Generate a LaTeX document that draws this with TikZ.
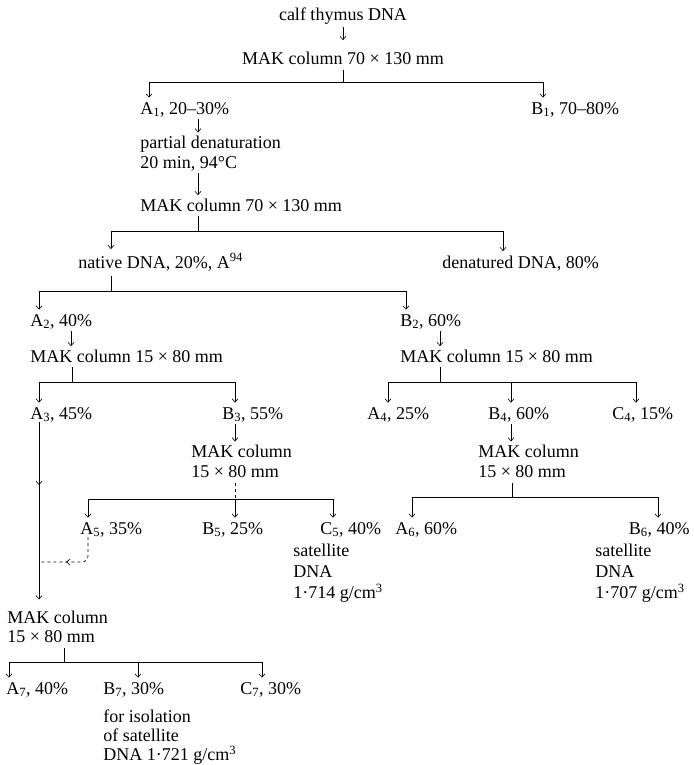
\documentclass[tikz,border=0pt]{standalone}
\usepackage{fontspec}
\setmainfont{Liberation Serif}
\usetikzlibrary{arrows.meta, positioning, calc, decorations.markings}
\tikzset{
    scheme/.style={>={Straight Barb[length=3.5pt,width=6pt]}, line width=0.6pt,
        font=\fontsize{18}{20}\selectfont, x=1pt, y=-1pt},
    lbl/.style={anchor=base west, inner sep=0pt},
    lbltop/.style={anchor=base, inner sep=0pt},
    lblblock/.style={anchor=north west, inner sep=0pt, align=left},
    flowarrow/.style={->, shorten <=2pt, shorten >=3pt},
    stemline/.style={shorten <=5pt},
    tobox/.style={->, shorten >=4pt},
    % arrow tip put in the middle of a line
    passarrow/.style={postaction={decorate},
        decoration={markings, mark=at position #1 with {\arrow{>}}}},
}

\begin{document}
\begin{tikzpicture}[scheme]
    \useasboundingbox (0,0) rectangle (693,765);

    \node[lbltop] (calf) at (343,21) {calf thymus DNA};
    \node[lbltop] (mak1) at (343,65) {MAK column 70 × 130 mm};
    \node[lbl] (a1) at (140,114) {A\textsubscript{1}, 20–30\%};
    \node[lbl] (b1) at (531,114) {B\textsubscript{1}, 70–80\%};
    \node[lblblock] (part) at (140,135.5) {partial denaturation\\20 min, 94°C};
    \node[lbl] (mak2) at (140,211) {MAK column 70 × 130 mm};
    \node[lbl] (native) at (78,268) {native DNA, 20\%, A\textsuperscript{94}};
    \node[lbl] (denat) at (442,268) {denatured DNA, 80\%};
    \node[lbl] (a2) at (30,326) {A\textsubscript{2}, 40\%};
    \node[lbl] (b2) at (400,326) {B\textsubscript{2}, 60\%};
    \node[lbl] (mak3) at (30,362) {MAK column 15 × 80 mm};
    \node[lbl] (mak4) at (400,362) {MAK column 15 × 80 mm};
    \node[lbl] (a3) at (30,419) {A\textsubscript{3}, 45\%};
    \node[lbl] (b3) at (222,419) {B\textsubscript{3}, 55\%};
    \node[lbl] (a4) at (367,419) {A\textsubscript{4}, 25\%};
    \node[lbl] (b4) at (488,419) {B\textsubscript{4}, 60\%};
    \node[lbl] (c4) at (612,419) {C\textsubscript{4}, 15\%};
    \node[lblblock] (mak5) at (191,444.5) {MAK column\\15 × 80 mm};
    \node[lblblock] (mak6) at (478,444.5) {MAK column\\15 × 80 mm};
    \node[lbl] (a5) at (80,534) {A\textsubscript{5}, 35\%};
    \node[lbl] (b5) at (202,534) {B\textsubscript{5}, 25\%};
    \node[lbl] (c5) at (320,534) {C\textsubscript{5}, 40\%};
    \node[lbl] (a6) at (395,534) {A\textsubscript{6}, 60\%};
    \node[lbl, anchor=base east] (b6) at (690,534) {B\textsubscript{6}, 40\%};
    \node[lblblock] (sat5) at (293,543.5) {satellite\\[1pt]DNA\\[1pt]1·714 g/cm\textsuperscript{3}};
    \node[lblblock] (sat6) at (595,543.5) {satellite\\[1pt]DNA\\[1pt]1·707 g/cm\textsuperscript{3}};
    \node[lblblock] (mak7) at (7,610.5) {MAK column\\[-1pt]15 × 80 mm};
    \node[lbl] (a7) at (6,694) {A\textsubscript{7}, 40\%};
    \node[lbl] (b7) at (103,694) {B\textsubscript{7}, 30\%};
    \node[lbl] (c7) at (240,694) {C\textsubscript{7}, 30\%};
    \node[lblblock] (iso7) at (103,709.5) {for isolation\\[-1pt]of satellite\\[-1pt]DNA 1·721 g/cm\textsuperscript{3}};

    % first column 70 x 130
    \draw[flowarrow, shorten >=12pt] (calf) -- (mak1);
    \coordinate (j1) at (343,82);
    \draw[stemline] (mak1) -- (j1);
    \draw[tobox] (j1) -| (a1.north -| 149,0);
    \draw[tobox] (j1) -| (b1.north -| 543,0);

    % partial denaturation
    \draw[flowarrow] (a1.south -| 198,0) -- (part.north -| 198,0);
    \draw[flowarrow] (part.south -| 198,0) -- (mak2.north -| 198,0);
    \coordinate (j2) at (198,231);
    \draw[stemline] (mak2.south -| j2) -- (j2);
    \draw[tobox] (j2) -| (native.north -| 111,0);
    \draw[tobox] (j2) -| (denat.north -| 503,0);

    \coordinate (j3) at (111,291);
    \draw[stemline] (native.south -| j3) -- (j3);
    \draw[tobox] (j3) -| (a2.north -| 39,0);
    \draw[tobox] (j3) -| (b2.north -| 406,0);

    % 15 x 80 columns
    \draw[flowarrow] (a2.south -| 71,0) -- (mak3.north -| 71,0);
    \draw[flowarrow] (b2.south -| 440,0) -- (mak4.north -| 440,0);
    \coordinate (j4) at (72,382);
    \coordinate (j5) at (440,382);
    \draw[stemline] (mak3.south -| j4) -- (j4);
    \draw[tobox] (j4) -| (a3.north -| 39,0);
    \draw[tobox] (j4) -| (b3.north -| 235,0);
    \draw[stemline] (mak4.south -| j5) -- (j5);
    \draw[tobox] (j5) -| (a4.north -| 388,0);
    \draw[tobox] (j5) -| (b4.north -| 511,0);
    \draw[tobox] (j5) -| (c4.north -| 636,0);

    \draw[flowarrow] (b3.south -| 235,0) -- (mak5.north -| 235,0);
    \draw[flowarrow] (b4.south -| 511,0) -- (mak6.north -| 511,0);
    \coordinate (j6) at (235,499);
    \coordinate (j7) at (512,497);
    \draw[stemline, dashed] (mak5.south -| j6) -- (j6);
    \draw[tobox] (j6) -| (a5.north -| 88,0);
    \draw[tobox] (j6) -- (b5.north -| j6);
    \draw[tobox] (j6) -| (c5.north -| 333,0);
    \draw[stemline] (mak6.south -| j7) -- (j7);
    \draw[tobox] (j7) -| (a6.north -| 412,0);
    \draw[tobox] (j7) -| (b6.north -| 658,0);

    % A3 and A5 pooled
    \coordinate (m3) at (39,562);
    \draw[passarrow=0.45] (a3.south -| m3) -- (m3);
    \draw[dashed, rounded corners=6pt, passarrow=0.62] (a5.south -| 88,0) |- (m3);
    \draw[flowarrow, shorten <=0pt, shorten >=11pt] (m3) -- (mak7.north -| m3);

    \coordinate (j8) at (64,662);
    \draw[stemline] (mak7.south -| j8) -- (j8);
    \draw[tobox] (j8) -| (a7.north -| 9,0);
    \draw[tobox] (j8) -| (b7.north -| 138,0);
    \draw[tobox] (j8) -| (c7.north -| 262,0);
\end{tikzpicture}
\end{document}
